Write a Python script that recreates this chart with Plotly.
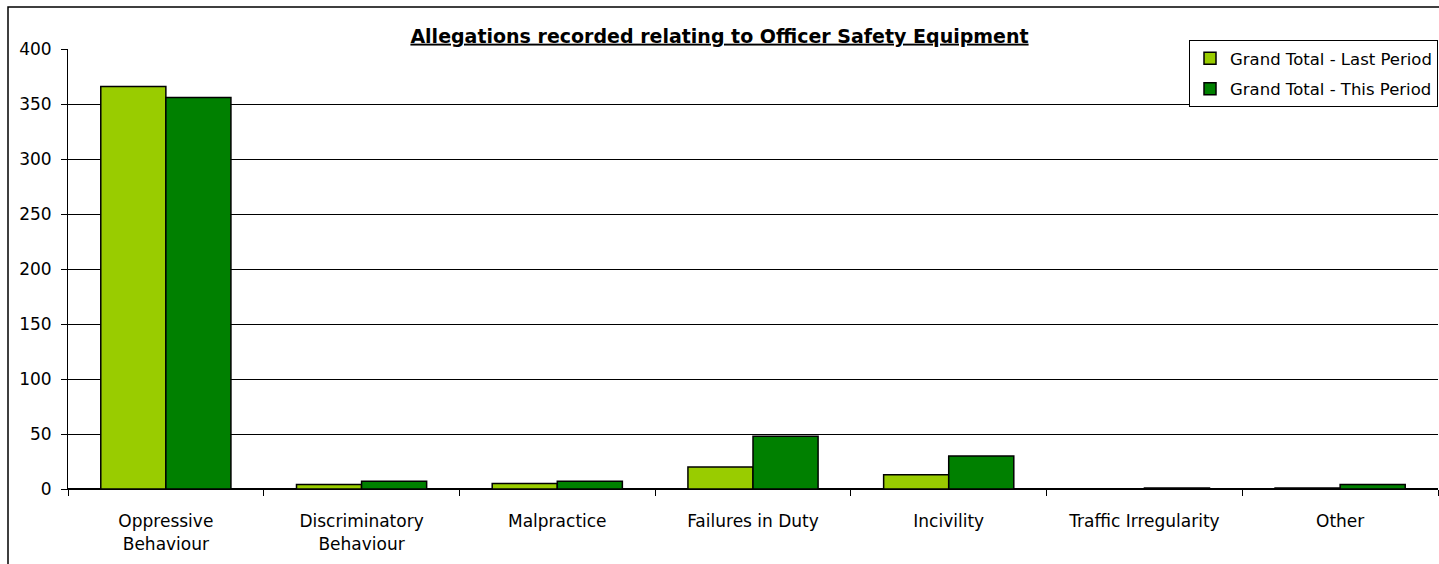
import plotly.graph_objects as go

categories = ["Oppressive<br>Behaviour", "Discriminatory<br>Behaviour", "Malpractice",
              "Failures in Duty", "Incivility", "Traffic Irregularity", "Other"]
last_period = [366, 4, 5, 20, 13, 0, 1]
this_period = [356, 7, 7, 48, 30, 1, 4]
y_ticks = [0, 50, 100, 150, 200, 250, 300, 350, 400]

FONT = "DejaVu Sans"

fig = go.Figure()
fig.add_trace(go.Bar(x=categories, y=last_period, name="Grand Total - Last Period",
                     legendgroup="a",
                     marker=dict(color="#99CC00", line=dict(color="black", width=1.5))))
fig.add_trace(go.Bar(x=categories, y=this_period, name="Grand Total - This Period",
                     legendgroup="b",
                     marker=dict(color="#008000", line=dict(color="black", width=1.5))))

fig.update_layout(
    width=1439, height=564,
    margin=dict(l=68, r=1, t=49, b=75),
    paper_bgcolor="white", plot_bgcolor="white",
    barmode="group", bargap=0.335, bargroupgap=0,
    font=dict(family=FONT, size=17, color="black"),
    title=dict(text="<b><u>Allegations recorded relating to Officer Safety Equipment</u></b>",
               x=0.5, xanchor="center", y=1 - 36 / 564, yanchor="middle",
               font=dict(family=FONT, size=19, color="black")),
    legend=dict(x=1.0, xanchor="right", y=(489 - 40) / 440, yanchor="top",
                bordercolor="black", borderwidth=1, bgcolor="white",
                font=dict(family=FONT, size=16.5, color="black"),
                itemwidth=30, tracegroupgap=6, traceorder="grouped"),
    showlegend=True,
)
fig.update_xaxes(tickson="boundaries", ticks="outside", ticklen=6, tickcolor="black",
                 showline=True, linecolor="black", linewidth=1,
                 ticklabelstandoff=17,
                 tickfont=dict(family=FONT, size=17, color="black"))
fig.update_yaxes(range=[0, 400], tickvals=y_ticks, ticks="outside", ticklen=6,
                 tickcolor="black", showline=True, linecolor="black", linewidth=1,
                 showgrid=True, gridcolor="black", gridwidth=1,
                 zeroline=True, zerolinecolor="black",
                 ticklabelstandoff=6,
                 tickfont=dict(family=FONT, size=17, color="black"))

# outer chart border
fig.add_shape(type="rect", xref="paper", yref="paper",
              x0=(8 - 68) / 1370, x1=1.01, y0=-0.3, y1=(489 - 7) / 440,
              line=dict(color="black", width=1.5), fillcolor="rgba(0,0,0,0)", layer="below")

fig.write_html("out.html", config={"displayModeBar": False},
               post_script="document.body.style.margin='0';")
